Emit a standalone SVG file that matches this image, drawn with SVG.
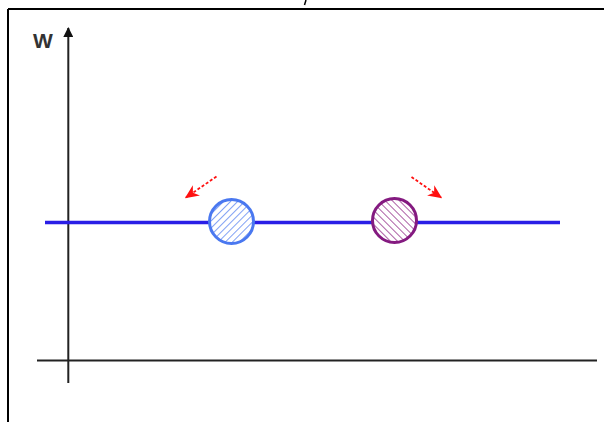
<svg xmlns="http://www.w3.org/2000/svg" width="604" height="422" viewBox="0 0 604 422">
  <style>
    .frame { stroke: #000; stroke-width: 2; fill: none; }
    .axis { stroke: #222; stroke-width: 2; fill: none; }
    .level { stroke: #2a1ee6; stroke-width: 3.5; fill: none; }
    .move { stroke: #ff1010; stroke-width: 1.8; stroke-dasharray: 3 2; fill: none; }
    .label { font-family: "Liberation Sans", Arial, sans-serif; font-size: 21px; font-weight: bold; fill: #333; }
  </style>
  <defs>
    <marker id="axisHead" viewBox="0 0 10 10" refX="9" refY="5" markerWidth="18" markerHeight="10" markerUnits="userSpaceOnUse" orient="auto">
      <path d="M0,0 L10,5 L0,10 Z" fill="#111"/>
    </marker>
    <marker id="redHead" viewBox="0 0 10 10" refX="9" refY="5" markerWidth="14" markerHeight="14" markerUnits="userSpaceOnUse" orient="auto">
      <path d="M0,0.5 L10,5 L0,9.5 L3,5 Z" fill="#ff1010"/>
    </marker>
    <pattern id="hatchBlue" width="5" height="5" patternUnits="userSpaceOnUse" patternTransform="rotate(45)">
      <line x1="0" y1="0" x2="0" y2="5" stroke="#4a78f0" stroke-width="1.4"/>
    </pattern>
    <pattern id="hatchPurple" width="5" height="5" patternUnits="userSpaceOnUse" patternTransform="rotate(-45)">
      <line x1="0" y1="0" x2="0" y2="5" stroke="#8a1a80" stroke-width="1.4"/>
    </pattern>
  </defs>

  <!-- partial frame -->
  <g id="frame">
    <line class="frame" x1="8" y1="9" x2="604" y2="9"/>
    <line class="frame" x1="8" y1="9" x2="8" y2="422"/>
    <line x1="306" y1="0" x2="304.5" y2="5" stroke="#000" stroke-width="1.5"/>
  </g>

  <!-- axes -->
  <g id="axes">
    <line class="axis" x1="37" y1="360.5" x2="597" y2="360.5"/>
    <line class="axis" x1="68.3" y1="383" x2="68.3" y2="28" marker-end="url(#axisHead)"/>
    <text class="label" x="33" y="47.5">W</text>
  </g>

  <!-- connectors: level line and motion arrows -->
  <g id="connectors">
    <line class="level" x1="45" y1="222.5" x2="560" y2="222.5"/>
    <line class="move" x1="216.5" y1="176.5" x2="186" y2="197.5" marker-end="url(#redHead)"/>
    <line class="move" x1="411.5" y1="177" x2="441" y2="197.5" marker-end="url(#redHead)"/>
  </g>

  <!-- particles -->
  <g id="particle-left">
    <circle cx="231.5" cy="221.5" r="22" fill="#fff"/>
    <circle cx="231.5" cy="221.5" r="22" fill="url(#hatchBlue)" stroke="#4a78f0" stroke-width="3"/>
  </g>
  <g id="particle-right">
    <circle cx="394.5" cy="220.5" r="22" fill="#fff"/>
    <circle cx="394.5" cy="220.5" r="22" fill="url(#hatchPurple)" stroke="#841a80" stroke-width="3"/>
  </g>
</svg>
